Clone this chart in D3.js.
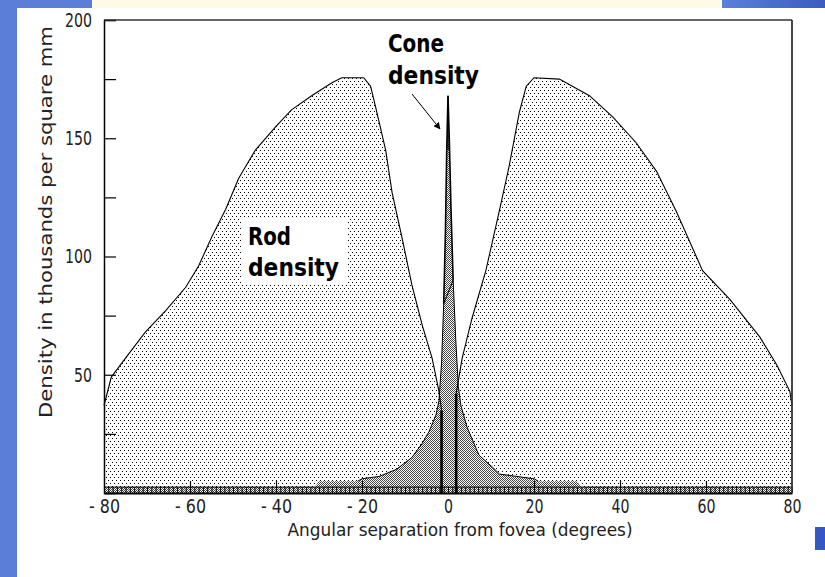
<!DOCTYPE html>
<html>
<head>
<meta charset="utf-8">
<script src="https://cdn.jsdelivr.net/npm/d3@7"></script>
<style>
  html, body { margin: 0; padding: 0; background: #ffffff; }
  svg { display: block; }
  text { font-family: "DejaVu Sans Condensed", "DejaVu Sans", "Liberation Sans", sans-serif; font-stretch: condensed; }
</style>
</head>
<body>
<script>
// ---------------- data ----------------
const rodLeftDeg = [-80, -80, -78.3, -75, -70.4, -65.7, -61, -58, -55, -51.7, -48.7, -44.8, -40, -36.4, -31.7, -27, -24.7, -19.6, -18, -16.8, -14.5, -13, -10.7, -8.4, -6, -3.7, -2.1, -1.5, -1.5];
const rodLeftVal = [0, 37, 49, 57, 68, 77, 87, 96, 108, 120, 133, 145, 155, 162, 168, 173.5, 175.6, 175.6, 172, 163, 145, 127, 108, 88, 71, 57, 43, 35, 0];
const rodRightDeg = [1.9, 1.9, 3.3, 5.6, 8.8, 11.9, 14.2, 16.6, 18.2, 20, 25.9, 32.9, 38.3, 43.8, 48.5, 53.1, 59.2, 65.5, 72.5, 76.5, 79.5, 80, 80];
const rodRightVal = [0, 42, 57, 74, 94, 119, 138, 161, 172, 175.6, 175, 168, 159, 148, 136, 119, 94, 82, 66, 54, 43, 37, 0];
const coneDeg = [-80, -31, -30, -21, -20, -16, -12, -8.4, -6, -4.4, -2.8, -2.1, -1.5, -1, -0.6, -0.3, 0, 0.3, 0.7, 1.2, 1.8, 2.4, 3, 4.4, 7.2, 10.3, 12, 16, 20, 21, 30, 31, 80];
const coneVal = [2.5, 2.5, 5, 5, 6, 7, 10, 15, 21, 26, 33, 39, 55, 80, 110, 145, 168, 150, 120, 90, 65, 45, 37, 28, 16, 11, 8, 7, 6, 5, 5, 2.5, 2.5];
const xTickValues = [-80, -60, -40, -20, 0, 20, 40, 60, 80];
const yMinorTicks = [25, 50, 75, 100, 125, 150, 175, 200];
const yLabelTicks = [50, 100, 150, 200];
const xTitle = "Angular separation from fovea (degrees)";
const yTitle = "Density in thousands per square mm";
const coneLabel = ["Cone", "density"];
const rodLabel = ["Rod", "density"];

// ---------------- layout ----------------
const W = 825, H = 577;
const svg = d3.select("body").append("svg").attr("width", W).attr("height", H);

const x = d3.scaleLinear().domain([-80, 80]).range([104, 792]);
const y = d3.scaleLinear().domain([0, 200]).range([493, 20]);

// page decoration (slide background)
const defs = svg.append("defs");
const grad = defs.append("linearGradient").attr("id", "tr").attr("x1", 0).attr("x2", 1).attr("y1", 0).attr("y2", 0);
grad.append("stop").attr("offset", 0).attr("stop-color", "#5b80d9");
grad.append("stop").attr("offset", 1).attr("stop-color", "#3a5cc2");
svg.append("rect").attr("x", 0).attr("y", 0).attr("width", W).attr("height", H).attr("fill", "#ffffff");
svg.append("rect").attr("x", 0).attr("y", 0).attr("width", 17).attr("height", H).attr("fill", "#5b7fd9");
svg.append("rect").attr("x", 0).attr("y", 0).attr("width", 92).attr("height", 8).attr("fill", "#5b7fd9");
svg.append("rect").attr("x", 92).attr("y", 0).attr("width", 630).attr("height", 8).attr("fill", "#fffbe6");
svg.append("rect").attr("x", 722).attr("y", 0).attr("width", 103).attr("height", 8).attr("fill", "url(#tr)");
svg.append("rect").attr("x", 815).attr("y", 527).attr("width", 10).attr("height", 23).attr("fill", "#3556c5");

// patterns
const pRod = defs.append("pattern").attr("id", "rodP").attr("patternUnits", "userSpaceOnUse")
  .attr("width", 4).attr("height", 6);
pRod.append("rect").attr("width", 4).attr("height", 6).attr("fill", "#fff");
pRod.append("rect").attr("x", 0).attr("y", 0).attr("width", 1).attr("height", 1).attr("fill", "#000");
pRod.append("rect").attr("x", 2).attr("y", 3).attr("width", 1).attr("height", 1).attr("fill", "#000");

const pCone = defs.append("pattern").attr("id", "coneP").attr("patternUnits", "userSpaceOnUse")
  .attr("width", 2).attr("height", 2);
pCone.append("rect").attr("width", 2).attr("height", 2).attr("fill", "#fff");
pCone.append("rect").attr("x", 0).attr("y", 0).attr("width", 1).attr("height", 1).attr("fill", "#444");
pCone.append("rect").attr("x", 1).attr("y", 1).attr("width", 1).attr("height", 1).attr("fill", "#444");

const zip = (a, b) => a.map((d, i) => [d, b[i]]);
const rodL = zip(rodLeftDeg, rodLeftVal);
const rodR = zip(rodRightDeg, rodRightVal);
const cone = zip(coneDeg, coneVal);

const area = d3.area().x(d => x(d[0])).y0(y(0)).y1(d => y(d[1]));
const line = d3.line().x(d => x(d[0])).y(d => y(d[1]));

// rod areas
svg.append("path").attr("d", area(rodL)).attr("fill", "url(#rodP)");
svg.append("path").attr("d", area(rodR)).attr("fill", "url(#rodP)");

// cone area
svg.append("path").attr("d", area(cone)).attr("fill", "url(#coneP)");
svg.append("path").attr("d", line(cone.filter(d => Math.abs(d[0]) <= 21 && Math.abs(d[0]) > 0.9)))
  .attr("fill", "none").attr("stroke", "#000").attr("stroke-width", 1);
svg.append("path").attr("d", line(cone.filter(d => Math.abs(d[0]) <= 1.2)))
  .attr("fill", "none").attr("stroke", "#000").attr("stroke-width", 1.6);
// peak line
svg.append("line").attr("x1", x(0)).attr("x2", x(0)).attr("y1", y(d3.max(coneVal))).attr("y2", y(145))
  .attr("stroke", "#000").attr("stroke-width", 1.2);

// rod outlines
svg.append("path").attr("d", line(rodL.slice(1, -1))).attr("fill", "none").attr("stroke", "#000").attr("stroke-width", 1.1);
svg.append("path").attr("d", line(rodR.slice(1, -1))).attr("fill", "none").attr("stroke", "#000").attr("stroke-width", 1.1);
// inner (foveal) edges of the rod curves
const lEdge = rodL[rodL.length - 2];
const rEdge = rodR[1];
[lEdge, rEdge].forEach(e => {
  svg.append("line").attr("x1", x(e[0])).attr("x2", x(e[0])).attr("y1", y(0)).attr("y2", y(e[1]))
    .attr("stroke", "#000").attr("stroke-width", 2.6);
});

// bottom hatched strip (fine ticks every degree)
const fine = svg.append("g").attr("transform", `translate(0,${y(0)})`)
  .call(d3.axisTop(x).tickValues(d3.range(-80, 81, 1)).tickSize(6).tickFormat(""));
fine.select(".domain").remove();
fine.selectAll("line").attr("stroke", "#000").attr("stroke-width", 1);
svg.append("line").attr("x1", x(-80)).attr("x2", x(80)).attr("y1", y(2.5)).attr("y2", y(2.5))
  .attr("stroke", "#000").attr("stroke-width", 1);

const labelLen = s => s.replace(/[^0-9]/g, "").length * 9 + (s.includes("-") ? 13 : 0);

// x axis
const gx = svg.append("g").attr("transform", `translate(0,${y(0)})`)
  .call(d3.axisBottom(x).tickValues(xTickValues).tickSize(0).tickPadding(6)
    .tickFormat(d => d < 0 ? "- " + Math.abs(d) : String(d)));
gx.select(".domain").attr("stroke", "#000").attr("stroke-width", 2);
gx.selectAll("text").attr("font-size", 20).attr("fill", "#222")
  .attr("textLength", function() { return labelLen(this.textContent); })
  .attr("lengthAdjust", "spacingAndGlyphs");
// major up ticks
svg.append("g").attr("transform", `translate(0,${y(0)})`)
  .call(d3.axisTop(x).tickValues(xTickValues.filter(d => Math.abs(d) !== 80 && d !== 0)).tickSize(12).tickFormat(""))
  .call(g => g.select(".domain").remove())
  .selectAll("line").attr("stroke", "#000").attr("stroke-width", 1.2);

// y axis
const gy = svg.append("g").attr("transform", `translate(${x(-80)},0)`)
  .call(d3.axisRight(y).tickValues(yMinorTicks).tickSize(12).tickFormat(""));
gy.select(".domain").attr("stroke", "#000").attr("stroke-width", 1.5);
gy.selectAll("line").attr("stroke", "#000").attr("stroke-width", 1.2);
svg.append("g").attr("transform", `translate(${x(-80)},0)`)
  .call(d3.axisLeft(y).tickValues(yLabelTicks).tickSize(0).tickPadding(12))
  .call(g => g.select(".domain").remove())
  .selectAll("text").attr("font-size", 20).attr("fill", "#222")
  .attr("textLength", function() { return labelLen(this.textContent); })
  .attr("lengthAdjust", "spacingAndGlyphs");

// frame top & right
svg.append("line").attr("x1", x(-80)).attr("x2", x(80)).attr("y1", y(200)).attr("y2", y(200))
  .attr("stroke", "#333").attr("stroke-width", 1.6);
svg.append("line").attr("x1", x(80)).attr("x2", x(80)).attr("y1", y(200)).attr("y2", y(0))
  .attr("stroke", "#333").attr("stroke-width", 1.8);

// titles
svg.append("text").attr("x", 460).attr("y", 536).attr("text-anchor", "middle")
  .attr("font-size", 18).attr("fill", "#222").attr("textLength", 345).attr("lengthAdjust", "spacingAndGlyphs")
  .text(xTitle);
svg.append("text").attr("transform", "translate(52,222) rotate(-90)").attr("text-anchor", "middle")
  .attr("font-size", 17).attr("fill", "#222").attr("textLength", 392).attr("lengthAdjust", "spacingAndGlyphs")
  .text(yTitle);

// Cone density label + arrow
svg.append("text").attr("x", 388).attr("y", 52).attr("font-size", 25).attr("font-weight", "bold")
  .attr("textLength", 56).attr("lengthAdjust", "spacingAndGlyphs").attr("fill", "#000").text(coneLabel[0]);
svg.append("text").attr("x", 388).attr("y", 84).attr("font-size", 25).attr("font-weight", "bold")
  .attr("textLength", 91).attr("lengthAdjust", "spacingAndGlyphs").attr("fill", "#000").text(coneLabel[1]);
defs.append("marker").attr("id", "arr").attr("viewBox", "0 0 10 10").attr("refX", 9).attr("refY", 5)
  .attr("markerWidth", 7).attr("markerHeight", 7).attr("orient", "auto")
  .append("path").attr("d", "M0,0 L10,5 L0,10 z").attr("fill", "#000");
svg.append("line").attr("x1", 412).attr("y1", 94).attr("x2", 440).attr("y2", 129)
  .attr("stroke", "#000").attr("stroke-width", 1).attr("marker-end", "url(#arr)");

// Rod density label
svg.append("rect").attr("x", 242).attr("y", 217).attr("width", 105).attr("height", 68).attr("fill", "#fff");
svg.append("text").attr("x", 248).attr("y", 245).attr("font-size", 25).attr("font-weight", "bold")
  .attr("textLength", 43).attr("lengthAdjust", "spacingAndGlyphs").attr("fill", "#000").text(rodLabel[0]);
svg.append("text").attr("x", 248).attr("y", 276).attr("font-size", 25).attr("font-weight", "bold")
  .attr("textLength", 91).attr("lengthAdjust", "spacingAndGlyphs").attr("fill", "#000").text(rodLabel[1]);
</script>
</body>
</html>
